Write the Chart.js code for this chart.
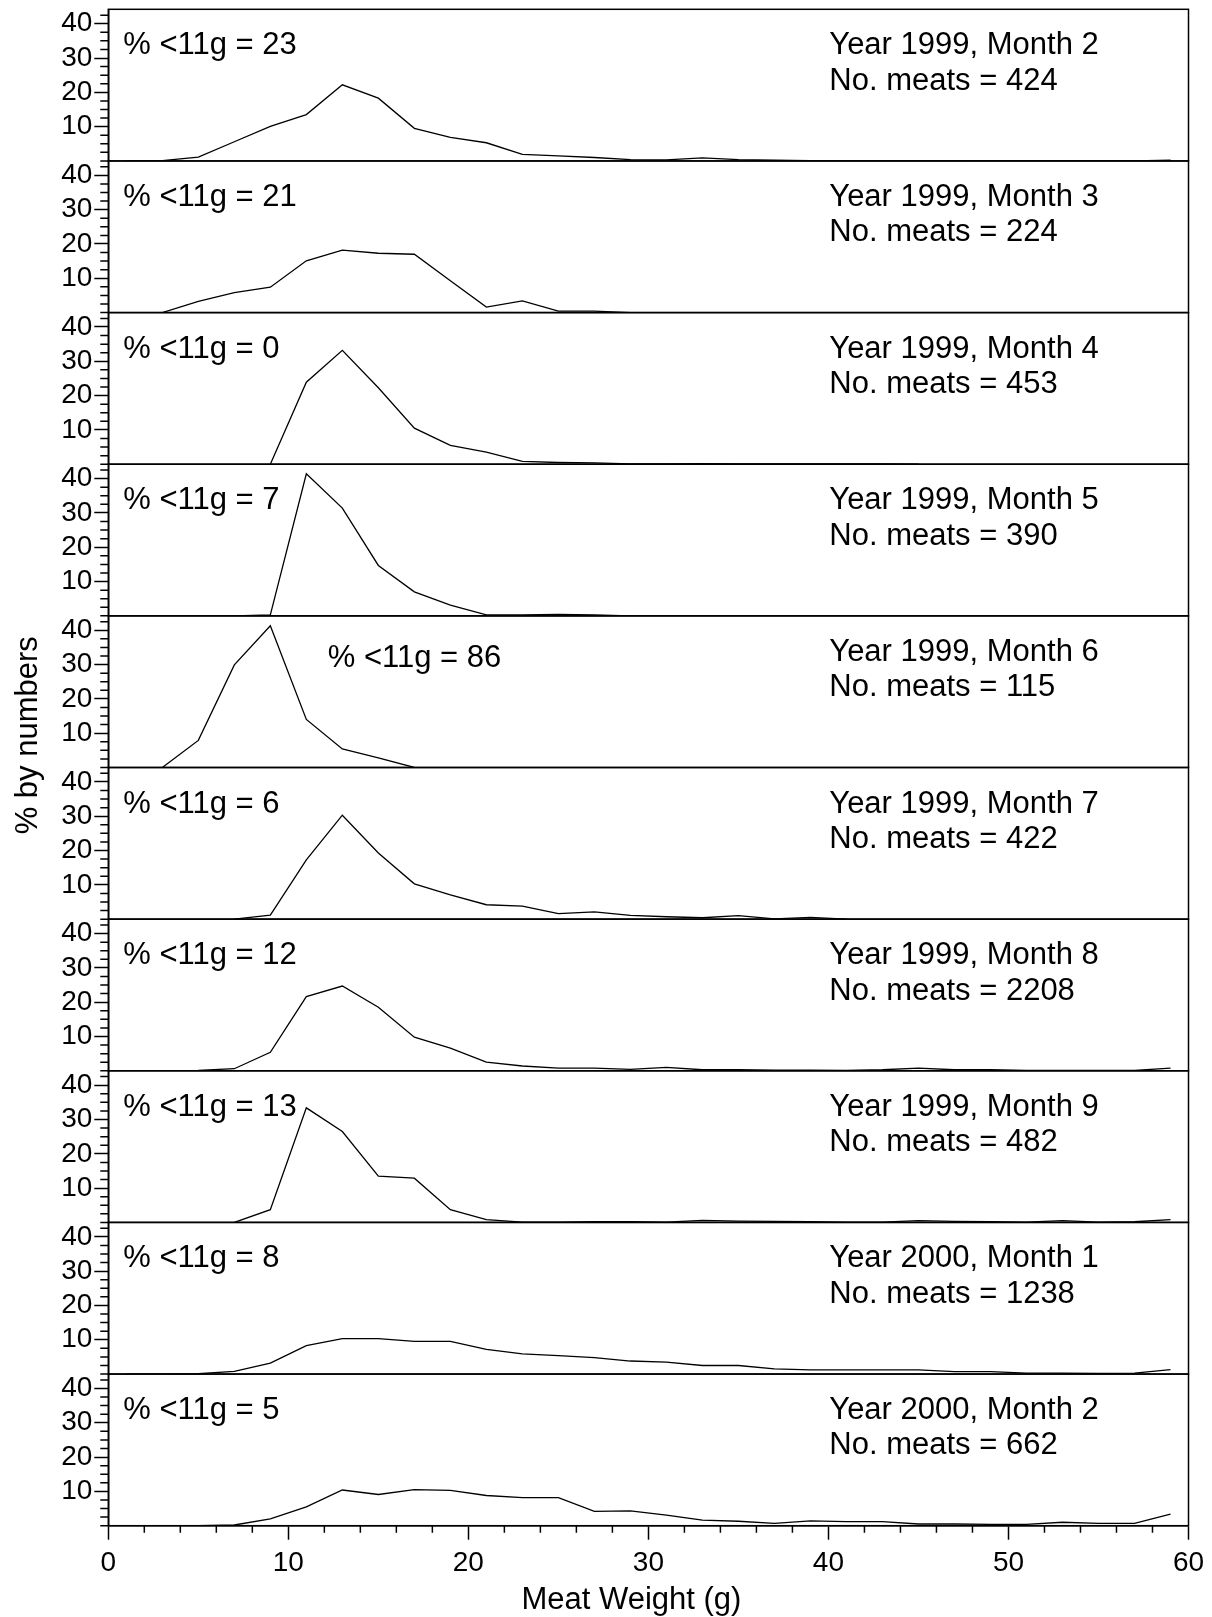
<!DOCTYPE html>
<html>
<head>
<meta charset="utf-8">
<script src="https://cdn.jsdelivr.net/npm/chart.js"></script>
<style>
html,body{margin:0;padding:0;background:#fff;overflow:hidden}
#wrap{width:1212px;height:1617px;position:relative}
</style>
</head>
<body>
<div id="wrap"><canvas id="c"></canvas></div>
<script>
// ---- data ----
const weights = [1,3,5,7,9,11,13,15,17,19,21,23,25,27,29,31,33,35,37,39,41,43,45,47,49,51,53,55,57,59];

const y1999m2 = [0,0.1,1.1,5.6,10.1,13.5,22.2,18.3,9.5,6.9,5.3,1.9,1.5,1.0,0.4,0.3,0.9,0.4,0.2,0.1,0.1,0.1,0.1,0.1,0,0,0,0,0,0.2];
const y1999m3 = [null,0,3.3,5.8,7.4,15.1,18.2,17.3,17.0,9.3,1.6,3.4,0.4,0.4,0,null,null,null,null,null,null,null,null,null,null,null,null,null,null,null];
const y1999m4 = [null,null,null,null,0,23.9,33.2,22.3,10.5,5.5,3.5,0.8,0.5,0.4,0.1,0.1,0.2,0.1,0.1,0.1,0.1,0.1,0,null,null,null,null,null,null,null];
const y1999m5 = [null,null,null,0,0.3,41.4,31.4,14.7,7.0,3.1,0.3,0.3,0.4,0.3,0,null,null,null,null,null,null,null,null,null,null,null,null,null,null,null];
const y1999m6 = [null,0,7.9,29.9,41.3,14.0,5.4,2.8,0,null,null,null,null,null,null,null,null,null,null,null,null,null,null,null,null,null,null,null,null,null];
const y1999m7 = [null,null,null,0,1.2,17.3,30.3,19.3,10.3,7.1,4.2,3.8,1.6,2.1,1.1,0.7,0.4,1.0,0.1,0.5,0,null,null,null,null,null,null,null,null,null];
const y1999m8 = [0,0,0.1,0.6,5.4,21.6,24.7,18.5,9.8,6.6,2.5,1.4,0.8,0.8,0.4,1.0,0.3,0.3,0.2,0.2,0.1,0.3,0.8,0.3,0.3,0.1,0.1,0.1,0.1,0.8];
const y1999m9 = [null,null,null,0,3.7,33.4,26.5,13.5,12.9,3.7,0.8,0.1,0.1,0.2,0.2,0.1,0.6,0.4,0.3,0.2,0.1,0.1,0.5,0.3,0.2,0.1,0.5,0.1,0.2,0.8];
const y2000m1 = [0,0,0.1,0.8,3.2,8.3,10.3,10.3,9.5,9.5,7.2,5.9,5.4,4.8,3.8,3.5,2.5,2.5,1.5,1.2,1.2,1.2,1.2,0.7,0.7,0.3,0.3,0.2,0.3,1.3];
const y2000m2 = [0,0,0,0.2,2.0,5.5,10.4,9.1,10.5,10.3,8.8,8.2,8.2,4.2,4.3,3.1,1.6,1.3,0.7,1.4,1.2,1.2,0.5,0.5,0.4,0.4,1.0,0.7,0.7,3.4];

const panelSeries = [y1999m2,y1999m3,y1999m4,y1999m5,y1999m6,y1999m7,y1999m8,y1999m9,y2000m1,y2000m2];
const panelYears  = [1999,1999,1999,1999,1999,1999,1999,1999,2000,2000];
const panelMonths = [2,3,4,5,6,7,8,9,1,2];
const panelCounts = [424,224,453,390,115,422,2208,482,1238,662];
const panelPctUnder11 = [23,21,0,7,86,6,12,13,8,5];

const yTickLabels = [10,20,30,40];
const yMinorTicks = [0,2.5,5,7.5,12.5,15,17.5,22.5,25,27.5,32.5,35,37.5,42.5];
const xMinorTicks = [2,4,6,8,12,14,16,18,22,24,26,28,32,34,36,38,42,44,46,48,52,54,56,58];
const xTitle = 'Meat Weight (g)';
const yTitle = '% by numbers';

// ---- chart ----
const FONT = "'Liberation Sans', Arial, Helvetica, sans-serif";
Chart.defaults.font.family = FONT;
Chart.defaults.color = '#000';

const N = panelSeries.length;
const scales = {
  x: {
    type: 'linear', position: 'bottom', min: 0, max: 60,
    ticks: { stepSize: 10, font: { size: 28 }, padding: 7, color: '#000', maxRotation: 0, autoSkip: false },
    grid: { drawOnChartArea: false, drawTicks: true, tickLength: 14, tickWidth: 1.5, tickColor: '#000' },
    border: { display: true, color: '#000', width: 1.5 },
    afterFit: s => { s.height = 91.3; }
  }
};
const datasets = [];
for (let i = 0; i < N; i++) {
  scales['y' + i] = {
    type: 'linear', position: 'left', stack: 'panels', stackWeight: 1, weight: N - i,
    min: 0, max: 44.2,
    ticks: {
      stepSize: 10, includeBounds: false, autoSkip: false, font: { size: 28 }, padding: 2, color: '#000',
      callback: v => (yTickLabels.includes(v) ? String(v) : '')
    },
    grid: {
      drawOnChartArea: false, drawTicks: true, tickLength: 14, tickWidth: 1.5,
      tickColor: c => (c.tick && c.tick.value === 0 ? 'rgba(0,0,0,0)' : '#000')
    },
    border: { display: true, color: '#000', width: 1.5 },
    afterFit: s => { s.width = 108.3; s.paddingTop = 0; s.paddingBottom = 0; }
  };
  datasets.push({
    label: 'Year ' + panelYears[i] + ', Month ' + panelMonths[i],
    yAxisID: 'y' + i,
    data: weights.map((w, k) => ({ x: w, y: panelSeries[i][k] })),
    borderColor: '#000', borderWidth: 1.3, pointRadius: 0, tension: 0, fill: false, spanGaps: false
  });
}

const decorations = {
  id: 'decorations',
  beforeDatasetsDraw(chart) {
    const ctx = chart.ctx, a = chart.chartArea;
    ctx.save();
    ctx.strokeStyle = '#000'; ctx.lineWidth = 1.5;
    for (let i = 0; i < N; i++) {
      const s = chart.scales['y' + i];
      ctx.strokeRect(a.left, s.top, a.right - a.left, s.bottom - s.top);
    }
    ctx.restore();
  },
  afterDraw(chart) {
    const ctx = chart.ctx, a = chart.chartArea, xs = chart.scales.x;
    ctx.save();
    ctx.strokeStyle = '#000'; ctx.lineWidth = 1.5;
    ctx.beginPath();
    for (let i = 0; i < N; i++) {
      const s = chart.scales['y' + i];
      for (const v of yMinorTicks) {
        const py = s.getPixelForValue(v);
        ctx.moveTo(a.left - 8, py); ctx.lineTo(a.left, py);
      }
    }
    for (const v of xMinorTicks) {
      const px = xs.getPixelForValue(v);
      ctx.moveTo(px, a.bottom); ctx.lineTo(px, a.bottom + 7);
    }
    ctx.stroke();

    // panel annotations
    ctx.fillStyle = '#000';
    ctx.font = '31px ' + FONT;
    ctx.textAlign = 'left';
    ctx.textBaseline = 'alphabetic';
    for (let i = 0; i < N; i++) {
      const s = chart.scales['y' + i];
      const pctX = i === 4 ? a.left + 219.4 : a.left + 15;
      const pctY = i === 4 ? s.top + 51 : s.top + 45;
      ctx.fillText('% <11g = ' + panelPctUnder11[i], pctX, pctY);
      ctx.fillText('Year ' + panelYears[i] + ', Month ' + panelMonths[i], a.left + 721, s.top + 45);
      ctx.fillText('No. meats = ' + panelCounts[i], a.left + 721, s.top + 80.4);
    }

    // x axis title
    ctx.textAlign = 'center';
    ctx.fillText(xTitle, (a.left + a.right) / 2 - 17, a.bottom + 83);

    // y axis title
    ctx.save();
    ctx.translate(37, a.top + 726);
    ctx.rotate(-Math.PI / 2);
    ctx.textAlign = 'center';
    ctx.fillText(yTitle, 0, 0);
    ctx.restore();
    ctx.restore();
  }
};

new Chart(document.getElementById('c'), {
  type: 'line',
  data: { datasets },
  options: {
    responsive: true, maintainAspectRatio: false, animation: false,
    layout: { padding: { left: 0, right: 23.5, top: 9.3, bottom: 0 } },
    plugins: { legend: { display: false }, tooltip: { enabled: false }, title: { display: false } },
    scales
  },
  plugins: [decorations]
});
</script>
</body>
</html>
